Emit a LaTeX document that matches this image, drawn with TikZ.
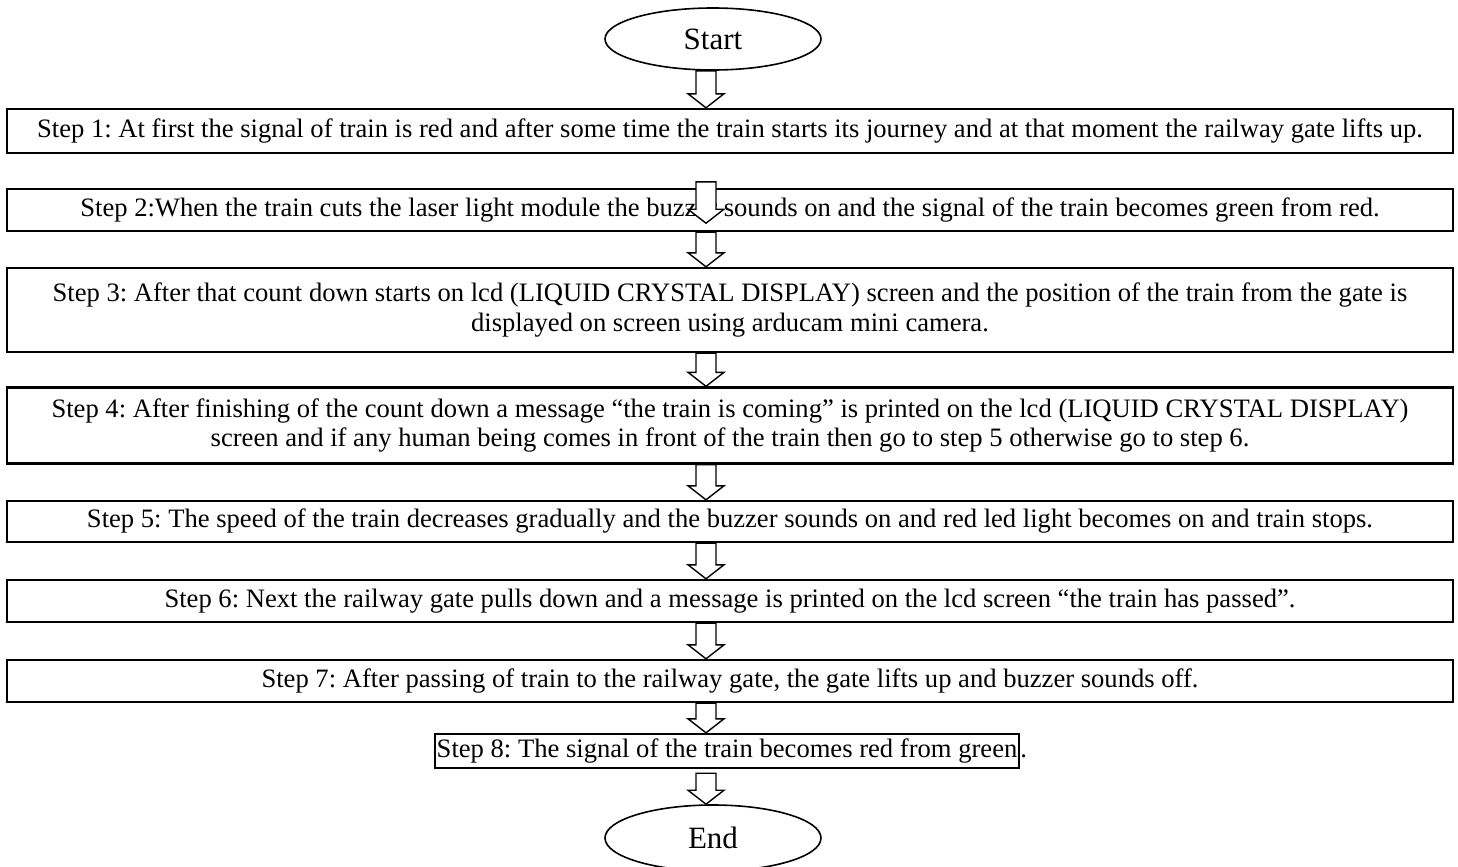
\documentclass[tikz,border=0pt]{standalone}
\usepackage{fontspec}
\setmainfont{Liberation Serif}
\usetikzlibrary{shapes.geometric,calc}
\frenchspacing
\newcommand{\blockarrow}[2]{%
  \draw[blockarr] ($(#1)+(-10,0)$) -- ($(#2)+(-10,-14)$) -- ($(#2)+(-18,-14)$)
    -- (#2) -- ($(#2)+(18,-14)$) -- ($(#2)+(10,-14)$) -- ($(#1)+(10,0)$) -- cycle;}
\begin{document}
\begin{tikzpicture}[x=0.5pt,y=-0.5pt,
  stepbox/.style={draw, line width=1.2pt, minimum width=723pt, inner sep=2pt,
    align=center, font=\fontsize{13.3}{14.6}\selectfont},
  terminal/.style={draw, ellipse, line width=0.8pt, minimum width=108pt,
    minimum height=31pt, inner sep=0pt, font=\fontsize{15.5}{17}\selectfont},
  blockarr/.style={draw, fill=white, line width=0.7pt, line join=miter}]
\useasboundingbox (0,0) rectangle (1458,867);
\coordinate (ax) at (706,0);
\node[terminal] (start) at (713,39) {Start};
\node[stepbox, minimum height=22pt] (s1) at (730,131)
  {Step 1: At first the signal of train is red and after some time the train starts its journey and at that moment the railway gate lifts up.};
\node[stepbox, minimum height=21pt] (s2) at (730,210)
  {Step 2:When the train cuts the laser light module the buzzer sounds on and the signal of the train becomes green from red.};
\node[stepbox, minimum height=42pt] (s3) at (730,310)
  {Step 3: After that count down starts on lcd (LIQUID CRYSTAL DISPLAY) screen and the position of the train from the gate is\\
   displayed on screen using arducam mini camera.};
\node[stepbox, minimum height=38pt] (s4) at (730,425.5)
  {Step 4: After finishing of the count down a message “the train is coming” is printed on the lcd (LIQUID CRYSTAL DISPLAY)\\
   screen and if any human being comes in front of the train then go to step 5 otherwise go to step 6.};
\node[stepbox, minimum height=20.5pt] (s5) at (730,521.5)
  {Step 5: The speed of the train decreases gradually and the buzzer sounds on and red led light becomes on and train stops.};
\node[stepbox, minimum height=21pt] (s6) at (730,601)
  {Step 6: Next the railway gate pulls down and a message is printed on the lcd screen “the train has passed”.};
\node[stepbox, minimum height=21pt] (s7) at (730,681)
  {Step 7: After passing of train to the railway gate, the gate lifts up and buzzer sounds off.};
\node[draw, line width=1.2pt, minimum height=17pt, inner xsep=1pt, inner ysep=0.5pt,
  font=\fontsize{13.3}{14.6}\selectfont] (s8) at (727,751)
  {Step 8: The signal of the train becomes red from green};
\node[anchor=base west, inner sep=0pt, font=\fontsize{13.3}{14.6}\selectfont, xshift=-0.3pt]
  (s8dot) at (s8.base east) {.};
\node[terminal, minimum height=33pt] (end) at (713,838) {End};
\coordinate (m1) at ($(s2.north -| ax)+(0,-6)$);
\coordinate (m2) at ($(s2.south -| ax)+(0,-9)$);
\coordinate (e1) at ($(s8.south -| ax)+(0,4)$);
\blockarrow{start.south -| ax}{s1.north -| ax}
\blockarrow{m1}{m2}
\blockarrow{s2.south -| ax}{s3.north -| ax}
\blockarrow{s3.south -| ax}{s4.north -| ax}
\blockarrow{s4.south -| ax}{s5.north -| ax}
\blockarrow{s5.south -| ax}{s6.north -| ax}
\blockarrow{s6.south -| ax}{s7.north -| ax}
\blockarrow{s7.south -| ax}{s8.north -| ax}
\blockarrow{e1}{end.north -| ax}
\end{tikzpicture}
\end{document}
